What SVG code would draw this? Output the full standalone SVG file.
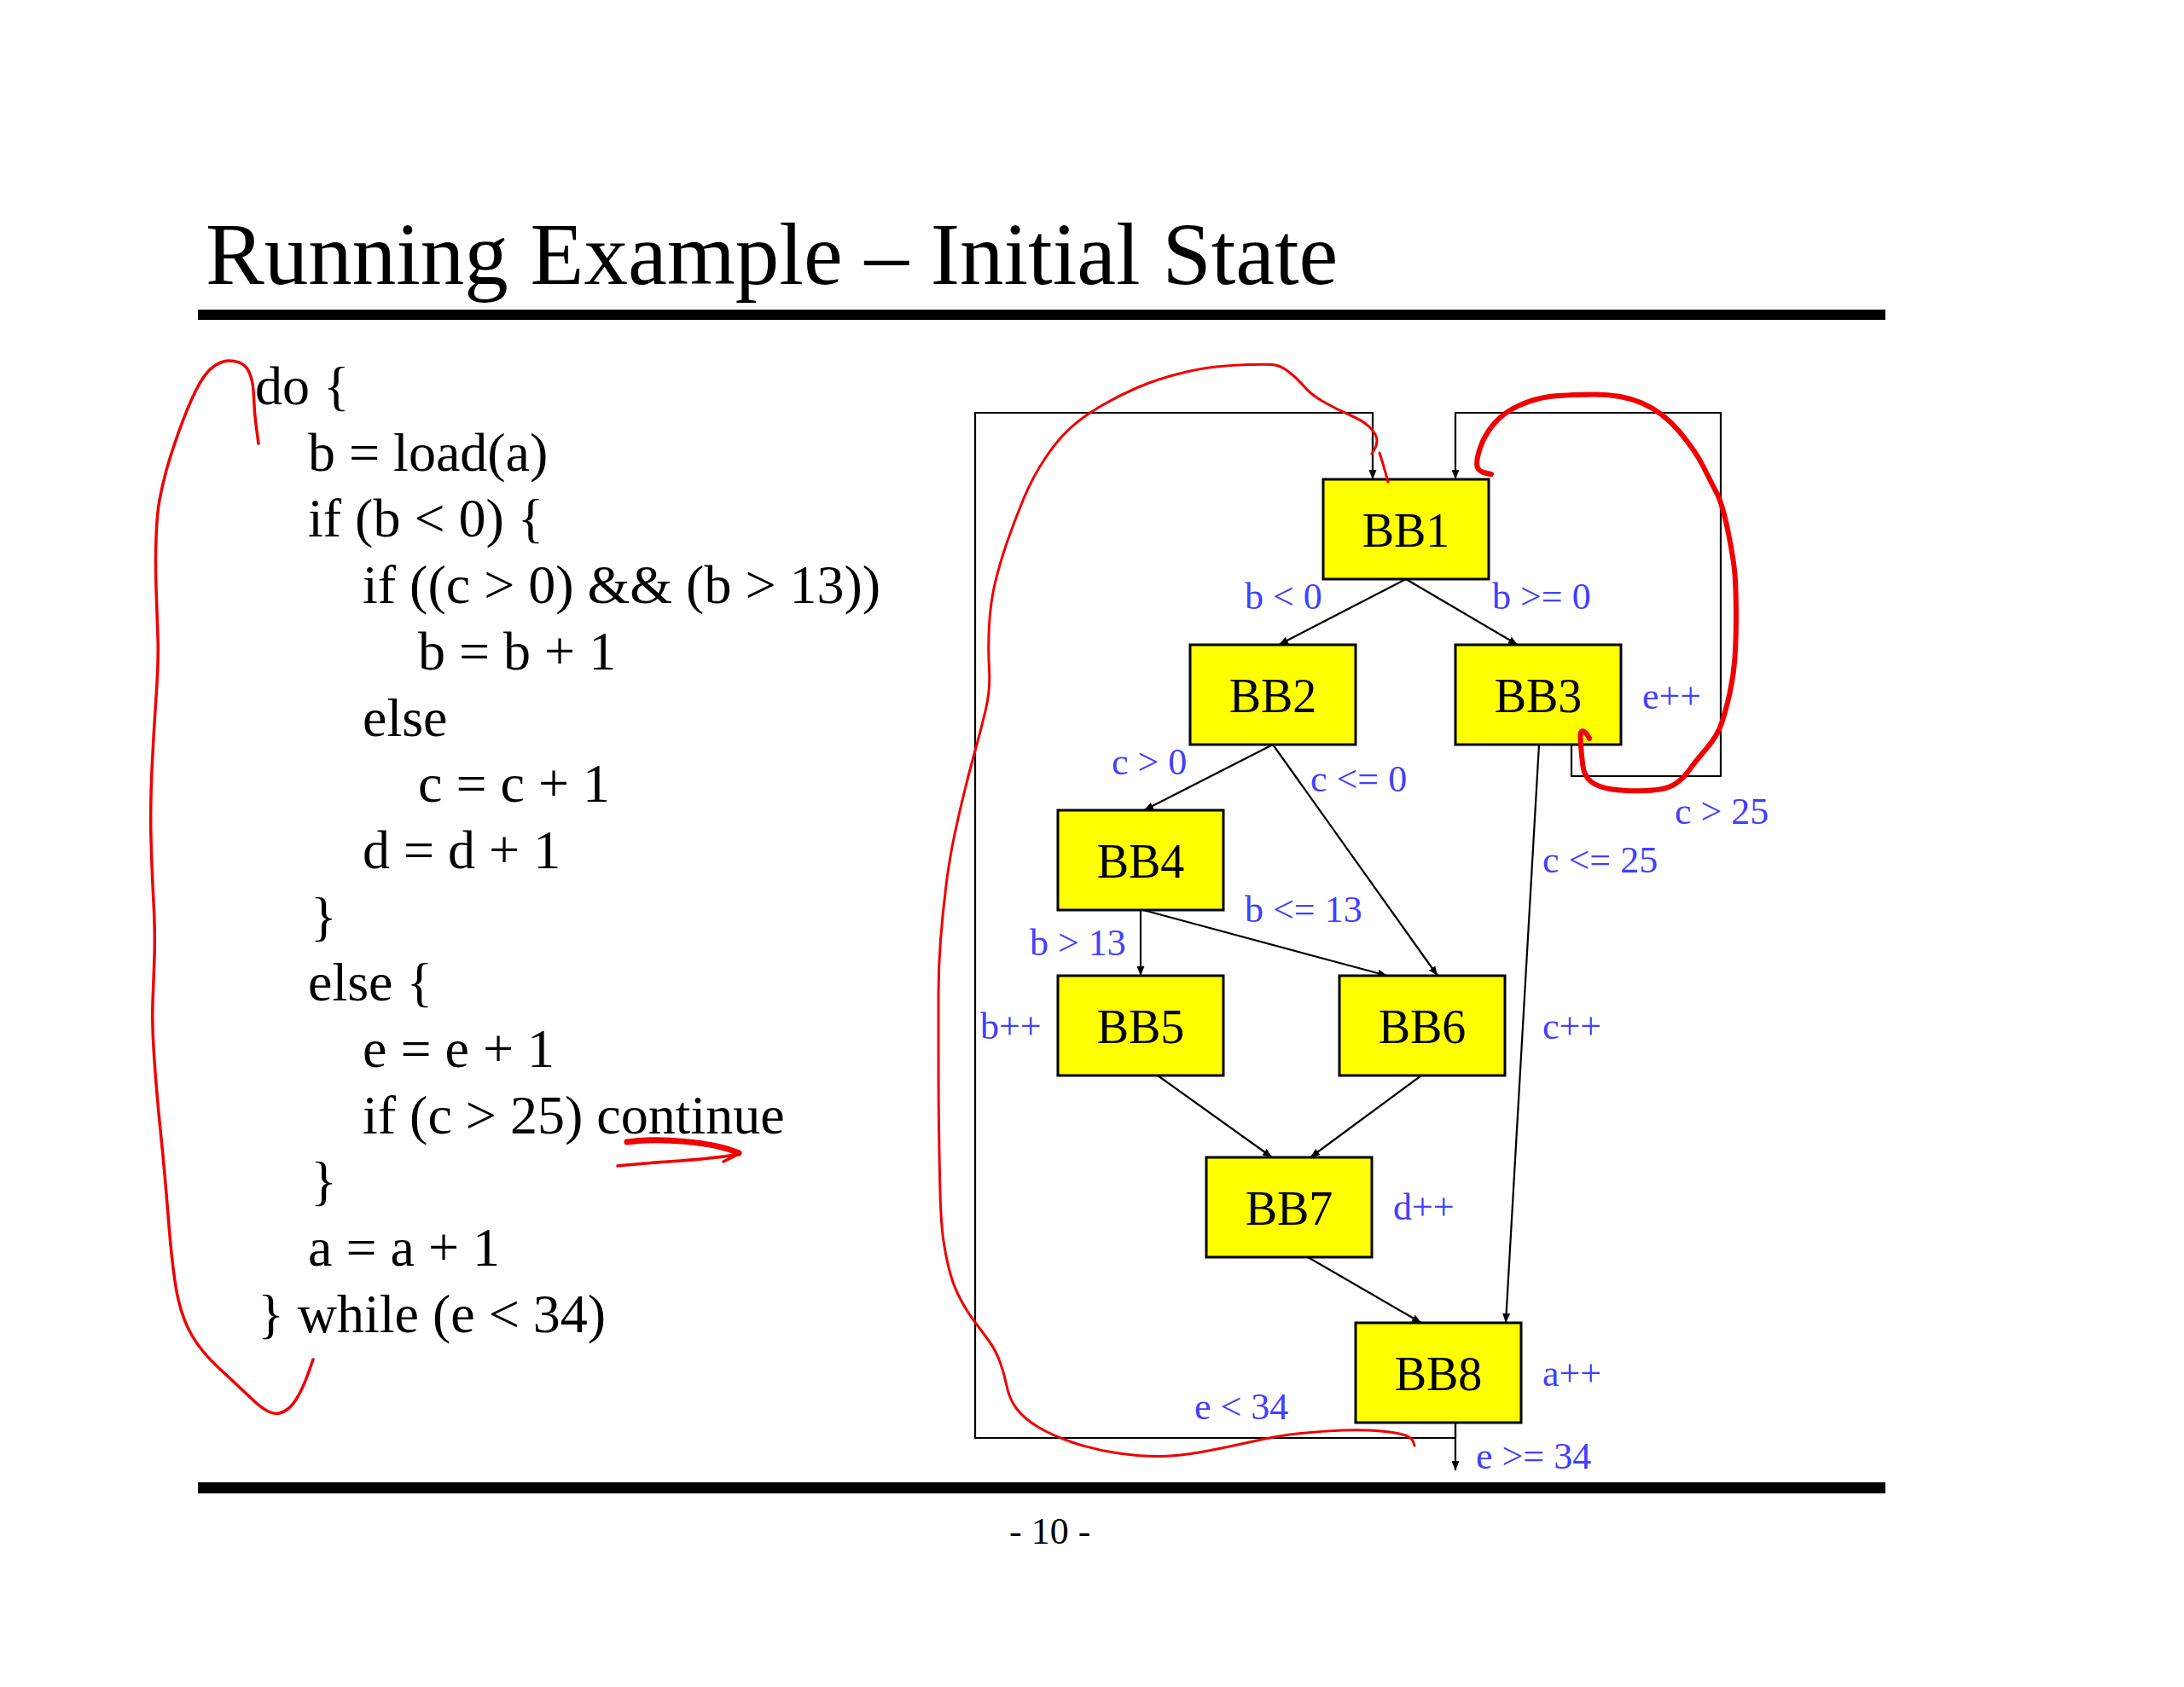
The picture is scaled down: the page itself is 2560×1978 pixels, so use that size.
<svg xmlns="http://www.w3.org/2000/svg" width="2560" height="1978" viewBox="0 0 2560 1978">
<defs>
<style>
.serif{font-family:"Liberation Serif","Times New Roman",serif;}
.title{font-size:103px;fill:#000;}
.code{font-size:64px;fill:#000;}
.bb{font-size:56px;fill:#000;text-anchor:middle;}
.lbl{font-size:44px;fill:#4040ff;}
.pg{font-size:44px;fill:#000;}
.box{fill:#ffff00;stroke:#000;stroke-width:3;}
.edge{fill:none;stroke:#000;stroke-width:2.2;}
.red{fill:none;stroke:#f00000;stroke-linecap:round;stroke-linejoin:round;}
</style>
<marker id="ah" markerWidth="11" markerHeight="9" refX="11" refY="4.5" orient="auto" markerUnits="userSpaceOnUse">
<path d="M0,0 L11,4.5 L0,9 z" fill="#000"/>
</marker>
</defs>
<rect x="0" y="0" width="2560" height="1978" fill="#fff"/>

<text class="serif title" x="241" y="333">Running Example – Initial State</text>
<rect x="232" y="363" width="1978" height="12" fill="#000"/>
<rect x="232" y="1738" width="1978" height="13" fill="#000"/>
<text class="serif pg" x="1183" y="1810">- 10 -</text>

<g id="code" class="serif code">
<text x="299" y="474">do {</text>
<text x="361" y="552">b = load(a)</text>
<text x="361" y="629">if (b &lt; 0) {</text>
<text x="425" y="707">if ((c &gt; 0) &amp;&amp; (b &gt; 13))</text>
<text x="490" y="785">b = b + 1</text>
<text x="425" y="863">else</text>
<text x="490" y="940">c = c + 1</text>
<text x="425" y="1018">d = d + 1</text>
<text x="364" y="1096">}</text>
<text x="361" y="1173">else {</text>
<text x="425" y="1251">e = e + 1</text>
<text x="425" y="1329">if (c &gt; 25) continue</text>
<text x="364" y="1406">}</text>
<text x="361" y="1484">a = a + 1</text>
<text x="302" y="1562">} while (e &lt; 34)</text>
</g>

<g id="connectors">
<line class="edge" x1="1648" y1="679" x2="1499" y2="756" marker-end="url(#ah)"/>
<line class="edge" x1="1648" y1="679" x2="1779" y2="756" marker-end="url(#ah)"/>
<line class="edge" x1="1492" y1="873" x2="1341" y2="950" marker-end="url(#ah)"/>
<line class="edge" x1="1492" y1="873" x2="1685" y2="1144" marker-end="url(#ah)"/>
<line class="edge" x1="1337" y1="1067" x2="1337" y2="1144" marker-end="url(#ah)"/>
<line class="edge" x1="1340" y1="1067" x2="1626" y2="1144" marker-end="url(#ah)"/>
<line class="edge" x1="1804" y1="873" x2="1765" y2="1551" marker-end="url(#ah)"/>
<line class="edge" x1="1357" y1="1261" x2="1491" y2="1357" marker-end="url(#ah)"/>
<line class="edge" x1="1666" y1="1261" x2="1536" y2="1357" marker-end="url(#ah)"/>
<line class="edge" x1="1533" y1="1474" x2="1666" y2="1551" marker-end="url(#ah)"/>
<path class="edge" d="M1706,1668 V1686 H1143 V484 H1609 V562" marker-end="url(#ah)"/>
<path class="edge" d="M1706,1668 V1724" marker-end="url(#ah)"/>
<path class="edge" d="M1842,873 V910 H2017 V484 H1706 V562" marker-end="url(#ah)"/>
</g>

<g id="BB1"><rect class="box" x="1551" y="562" width="194" height="117"/><text class="serif bb" x="1648" y="641">BB1</text></g>
<g id="BB2"><rect class="box" x="1395" y="756" width="194" height="117"/><text class="serif bb" x="1492" y="835">BB2</text></g>
<g id="BB3"><rect class="box" x="1706" y="756" width="194" height="117"/><text class="serif bb" x="1803" y="835">BB3</text></g>
<g id="BB4"><rect class="box" x="1240" y="950" width="194" height="117"/><text class="serif bb" x="1337" y="1029">BB4</text></g>
<g id="BB5"><rect class="box" x="1240" y="1144" width="194" height="117"/><text class="serif bb" x="1337" y="1223">BB5</text></g>
<g id="BB6"><rect class="box" x="1570" y="1144" width="194" height="117"/><text class="serif bb" x="1667" y="1223">BB6</text></g>
<g id="BB7"><rect class="box" x="1414" y="1357" width="194" height="117"/><text class="serif bb" x="1511" y="1436">BB7</text></g>
<g id="BB8"><rect class="box" x="1589" y="1551" width="194" height="117"/><text class="serif bb" x="1686" y="1630">BB8</text></g>

<g id="labels" class="serif lbl">
<text x="1459" y="714">b &lt; 0</text>
<text x="1749" y="714">b &gt;= 0</text>
<text x="1925" y="831">e++</text>
<text x="1303" y="908">c &gt; 0</text>
<text x="1536" y="928">c &lt;= 0</text>
<text x="1963" y="966">c &gt; 25</text>
<text x="1808" y="1023">c &lt;= 25</text>
<text x="1459" y="1081">b &lt;= 13</text>
<text x="1207" y="1120">b &gt; 13</text>
<text x="1149" y="1218">b++</text>
<text x="1808" y="1218">c++</text>
<text x="1633" y="1430">d++</text>
<text x="1808" y="1625">a++</text>
<text x="1400" y="1664">e &lt; 34</text>
<text x="1730" y="1722">e &gt;= 34</text>
</g>

<g id="annotations">
<path class="red" stroke-width="3.5" d="M303,520 L300.5,501.5 Q298,483 297.5,466.5 Q297,450 293.5,440 Q290,430 283.5,426.5 Q277,423 268.5,423 Q260,423 250,430 Q240,437 230,457 Q220,477 210,505 Q200,533 195,551.5 Q190,570 187,586 Q184,602 183,630.5 Q182,659 183,689.5 Q184,720 185,747 Q186,774 183,817 Q180,860 178,903 Q176,946 177,983 Q178,1020 180,1057.5 Q182,1095 181,1122.5 Q180,1150 179,1175.5 Q178,1201 181,1244 Q184,1287 188.5,1330 Q193,1373 197.5,1430.5 Q202,1488 207.5,1516.5 Q213,1545 224.5,1565 Q236,1585 256,1603.5 Q276,1622 296,1641 Q316,1660 327.5,1657 Q339,1654 347,1641 Q355,1628 361,1611 L367,1594"/>
<path class="red" stroke-width="7" d="M735,1339 C770,1334 835,1338 866,1352"/>
<path class="red" stroke-width="3.5" d="M724,1367 C765,1362 830,1361 866,1353 L848,1362"/>
<path class="red" stroke-width="3" d="M1608,532 L1611.5,526 Q1615,520 1613.5,513.5 Q1612,507 1604.5,500 Q1597,493 1582,486.5 Q1567,480 1552,471.5 Q1537,463 1528.5,453 Q1520,443 1510,435.5 Q1500,428 1491.5,427.5 Q1483,427 1464,427.5 Q1445,428 1425.5,430 Q1406,432 1380.5,438.5 Q1355,445 1333,454.5 Q1311,464 1290.5,476 Q1270,488 1255,501.5 Q1240,515 1225,537.5 Q1210,560 1199.5,585.5 Q1189,611 1180.5,635.5 Q1172,660 1166.5,683 Q1161,706 1159.5,733 Q1158,760 1159.5,784 Q1161,808 1155.5,831.5 Q1150,855 1144,876.5 Q1138,898 1131.5,924 Q1125,950 1119,978 Q1113,1006 1109,1038 Q1105,1070 1102.5,1102 Q1100,1134 1100,1167 Q1100,1200 1100,1240.5 Q1100,1281 1100.5,1320.5 Q1101,1360 1102,1398.5 Q1103,1437 1106.5,1458.5 Q1110,1480 1114.5,1495.5 Q1119,1511 1127,1525.5 Q1135,1540 1143,1550.5 Q1151,1561 1159,1572 Q1167,1583 1172,1596.5 Q1177,1610 1180,1625 Q1183,1640 1191.5,1651.5 Q1200,1663 1216.5,1673 Q1233,1683 1258,1691.5 Q1283,1700 1311.5,1704 Q1340,1708 1361.5,1707.5 Q1383,1707 1408,1702.5 Q1433,1698 1466.5,1690.5 Q1500,1683 1525,1680.5 Q1550,1678 1574,1677 Q1598,1676 1619,1678 Q1640,1680 1647.5,1683 Q1655,1686 1656.5,1690.5 L1658,1695"/>
<path class="red" stroke-width="3" d="M1617,531 Q1621,543 1627,565"/>
<path class="red" stroke-width="6" d="M1863,866 L1861.5,863 Q1860,860 1857,858 Q1854,856 1853,859 Q1852,862 1853,874.5 Q1854,887 1855.5,898.5 Q1857,910 1865,916.5 Q1873,923 1890,925.5 Q1907,928 1930,927 Q1953,926 1963,919.5 Q1973,913 1980,903 Q1987,893 2000,878 Q2013,863 2018,848 Q2023,833 2027.5,813 Q2032,793 2033.5,771.5 Q2035,750 2035,725 Q2035,700 2034,680 Q2033,660 2026,625.5 Q2019,591 2012.5,578.5 Q2006,566 1996.5,547 Q1987,528 1968,505.5 Q1949,483 1924.5,472.5 Q1900,462 1866.5,462.5 Q1833,463 1816.5,465 Q1800,467 1781.5,475 Q1763,483 1751.5,496.5 Q1740,510 1735,525 Q1730,540 1731.5,547 Q1733,554 1748,556"/>
</g>
</svg>
